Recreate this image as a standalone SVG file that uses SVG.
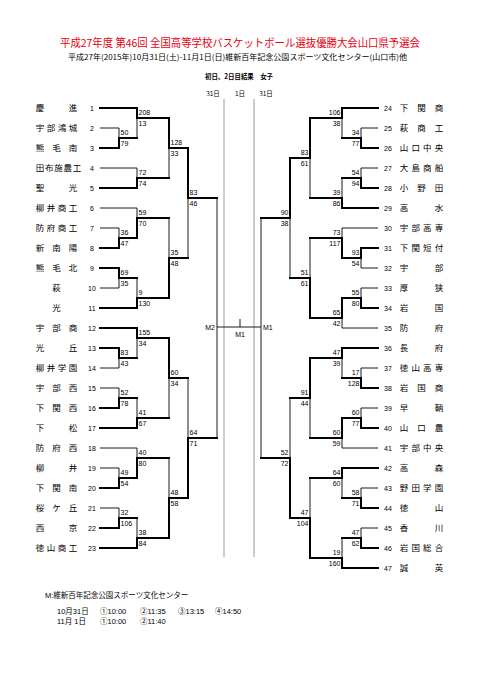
<svg xmlns="http://www.w3.org/2000/svg" width="481" height="680" viewBox="0 0 481 680">
<style>
.t{stroke:#000;stroke-width:0.9;fill:none}
.b{stroke:#000;stroke-width:2;fill:none;stroke-linecap:square}
.g{stroke:#999;stroke-width:1;fill:none}
text{font-family:"Liberation Sans","Noto Sans CJK JP",sans-serif;fill:#000}
.nm{font-family:"Noto Sans CJK JP",sans-serif;font-size:8.5px;text-anchor:middle}
.no{font-size:7px;text-anchor:middle}
.sl{font-size:7px}
.sr{font-size:7px;text-anchor:end}
.jp{font-family:"Noto Sans CJK JP",sans-serif}
</style>
<rect width="481" height="680" fill="#fff"/>
<g id="header">
<text class="jp" x="60" y="47" font-size="11" fill="#e60012" style="fill:#e60012" textLength="360" lengthAdjust="spacingAndGlyphs">平成27年度 第46回 全国高等学校バスケットボール選抜優勝大会山口県予選会</text>
<text class="jp" x="68" y="60" font-size="7.5" textLength="339" lengthAdjust="spacingAndGlyphs">平成27年(2015年)10月31日(土)-11月1日(日)維新百年記念公園スポーツ文化センター(山口市)他</text>
<text class="jp" x="205" y="79" font-size="7" font-weight="bold" textLength="68" lengthAdjust="spacingAndGlyphs">初日、2日目結果　女子</text>
<text class="jp" x="213" y="96" font-size="6.5" text-anchor="middle">31日</text>
<text class="jp" x="240" y="96" font-size="6.5" text-anchor="middle">1日</text>
<text class="jp" x="266" y="96" font-size="6.5" text-anchor="middle">31日</text>
</g>
<g id="connectors">
<path class="g" d="M224 99V557M254 99V557"/>
<path class="t" d="M100 128H119M100 168H137M100 208H137M100 228H119M100 288H119M100 368H119M100 388H119M100 448H137M100 468H119M100 508H119"/>
<path class="b" d="M100 108H137M100 148H119M100 188H137M100 248H119M100 268H119M100 308H137M100 328H137M100 348H119M100 408H119M100 428H137M100 488H119M100 528H119M100 548H137"/>
<path class="t" d="M378 128H361M378 168H361M378 228H342M378 268H361M378 288H361M378 328H342M378 368H361M378 408H361M378 448H342M378 488H361M378 528H361"/>
<path class="b" d="M378 108H342M378 148H361M378 188H361M378 208H342M378 248H361M378 308H361M378 348H342M378 388H361M378 428H361M378 468H342M378 508H361M378 548H361M378 568H342"/>
<path class="t" d="M119 128V138M137 118V138M137 168V178M169 148V178M119 228V238M137 208V218M119 278V288M137 278V298M169 218V258M188 198V258M119 358V368M137 338V358M119 388V398M137 398V418M169 378V418M119 468V478M137 448V458M119 508V518M137 518V538M169 458V498M188 378V438"/>
<path class="b" d="M119 138V148M119 138H137M137 108V118M137 118H169M137 178V188M137 178H169M169 118V148M169 148H188M119 238V248M119 238H137M137 218V238M137 218H169M119 268V278M119 278H137M137 298V308M137 298H169M169 258V298M169 258H188M188 148V198M188 198H217M119 348V358M119 358H137M137 328V338M137 338H169M119 398V408M119 398H137M137 418V428M137 418H169M169 338V378M169 378H188M119 478V488M119 478H137M137 458V478M137 458H169M119 518V528M119 518H137M137 538V548M137 538H169M169 498V538M169 498H188M188 438V498M188 438H217"/>
<path class="t" d="M361 128V138M342 118V138M361 168V178M342 178V198M310 158V198M361 258V268M342 228V238M361 288V298M342 318V328M310 238V278M290 218V278M361 368V378M342 358V378M361 408V418M342 438V448M310 398V438M361 488V498M342 478V498M361 528V538M342 538V558M310 478V518M290 398V458"/>
<path class="b" d="M361 138V148M361 138H342M342 108V118M342 118H310M361 178V188M361 178H342M342 198V208M342 198H310M310 118V158M310 158H290M361 248V258M361 258H342M342 238V258M342 238H310M361 298V308M361 298H342M342 298V318M342 318H310M310 278V318M310 278H290M290 158V218M290 218H261M361 378V388M361 378H342M342 348V358M342 358H310M361 418V428M361 418H342M342 418V438M342 438H310M310 358V398M310 398H290M361 498V508M361 498H342M342 468V478M342 478H310M361 538V548M361 538H342M342 558V568M342 558H310M310 518V558M310 518H290M290 458V518M290 458H261"/>
<path class="t" d="M217 198V438M261 218V458M217 327H261M240 319V327"/>
<g id="scores-left" class="sl">
<text x="120.5" y="135">50</text><text x="120.5" y="146">79</text>
<text x="138.5" y="115">208</text><text x="138.5" y="126">13</text>
<text x="138.5" y="175">72</text><text x="138.5" y="186">74</text>
<text x="170.5" y="145">128</text><text x="170.5" y="156">33</text>
<text x="120.5" y="235">36</text><text x="120.5" y="246">47</text>
<text x="138.5" y="215">59</text><text x="138.5" y="226">70</text>
<text x="120.5" y="275">69</text><text x="120.5" y="286">35</text>
<text x="138.5" y="295">9</text><text x="138.5" y="306">130</text>
<text x="170.5" y="255">35</text><text x="170.5" y="266">48</text>
<text x="189.5" y="195">83</text><text x="189.5" y="206">46</text>
<text x="120.5" y="355">83</text><text x="120.5" y="366">43</text>
<text x="138.5" y="335">155</text><text x="138.5" y="346">34</text>
<text x="120.5" y="395">52</text><text x="120.5" y="406">78</text>
<text x="138.5" y="415">41</text><text x="138.5" y="426">67</text>
<text x="170.5" y="375">60</text><text x="170.5" y="386">34</text>
<text x="120.5" y="475">49</text><text x="120.5" y="486">54</text>
<text x="138.5" y="455">40</text><text x="138.5" y="466">80</text>
<text x="120.5" y="515">32</text><text x="120.5" y="526">106</text>
<text x="138.5" y="535">38</text><text x="138.5" y="546">84</text>
<text x="170.5" y="495">48</text><text x="170.5" y="506">58</text>
<text x="189.5" y="435">64</text><text x="189.5" y="446">71</text>
</g>
<g id="scores-right" class="sr">
<text x="359.5" y="135">34</text><text x="359.5" y="146">77</text>
<text x="340.5" y="115">106</text><text x="340.5" y="126">38</text>
<text x="359.5" y="175">54</text><text x="359.5" y="186">94</text>
<text x="340.5" y="195">39</text><text x="340.5" y="206">86</text>
<text x="308.5" y="155">83</text><text x="308.5" y="166">61</text>
<text x="359.5" y="255">93</text><text x="359.5" y="266">54</text>
<text x="340.5" y="235">73</text><text x="340.5" y="246">117</text>
<text x="359.5" y="295">55</text><text x="359.5" y="306">80</text>
<text x="340.5" y="315">65</text><text x="340.5" y="326">42</text>
<text x="308.5" y="275">51</text><text x="308.5" y="286">61</text>
<text x="288.5" y="215">90</text><text x="288.5" y="226">38</text>
<text x="359.5" y="375">17</text><text x="359.5" y="386">128</text>
<text x="340.5" y="355">47</text><text x="340.5" y="366">39</text>
<text x="359.5" y="415">60</text><text x="359.5" y="426">77</text>
<text x="340.5" y="435">60</text><text x="340.5" y="446">59</text>
<text x="308.5" y="395">91</text><text x="308.5" y="406">44</text>
<text x="359.5" y="495">58</text><text x="359.5" y="506">71</text>
<text x="340.5" y="475">64</text><text x="340.5" y="486">60</text>
<text x="359.5" y="535">47</text><text x="359.5" y="546">62</text>
<text x="340.5" y="555">19</text><text x="340.5" y="566">160</text>
<text x="308.5" y="515">47</text><text x="308.5" y="526">104</text>
<text x="288.5" y="455">52</text><text x="288.5" y="466">72</text>
</g>
<g id="venues" font-size="7">
<text x="215" y="329.5" text-anchor="end">M2</text>
<text x="240" y="336.5" text-anchor="middle">M1</text>
<text x="263" y="329.5">M1</text>
</g>
</g>
<g id="team-1"><text class="nm" x="40 73" y="111">慶進</text><text class="no" x="92" y="110.5">1</text></g>
<g id="team-2"><text class="nm" x="40 51 62 73" y="131">宇部鴻城</text><text class="no" x="92" y="130.5">2</text></g>
<g id="team-3"><text class="nm" x="40 56.5 73" y="151">熊毛南</text><text class="no" x="92" y="150.5">3</text></g>
<g id="team-4"><text class="nm" x="40 49.25 58.5 67.75 77" y="171">田布施農工</text><text class="no" x="92" y="170.5">4</text></g>
<g id="team-5"><text class="nm" x="40 73" y="191">聖光</text><text class="no" x="92" y="190.5">5</text></g>
<g id="team-6"><text class="nm" x="40 51 62 73" y="211">柳井商工</text><text class="no" x="92" y="210.5">6</text></g>
<g id="team-7"><text class="nm" x="40 51 62 73" y="231">防府商工</text><text class="no" x="92" y="230.5">7</text></g>
<g id="team-8"><text class="nm" x="40 56.5 73" y="251">新南陽</text><text class="no" x="92" y="250.5">8</text></g>
<g id="team-9"><text class="nm" x="40 56.5 73" y="271">熊毛北</text><text class="no" x="92" y="270.5">9</text></g>
<g id="team-10"><text class="nm" x="56.5" y="291">萩</text><text class="no" x="92" y="290.5">10</text></g>
<g id="team-11"><text class="nm" x="56.5" y="311">光</text><text class="no" x="92" y="310.5">11</text></g>
<g id="team-12"><text class="nm" x="40 56.5 73" y="331">宇部商</text><text class="no" x="92" y="330.5">12</text></g>
<g id="team-13"><text class="nm" x="40 73" y="351">光丘</text><text class="no" x="92" y="350.5">13</text></g>
<g id="team-14"><text class="nm" x="40 51 62 73" y="371">柳井学園</text><text class="no" x="92" y="370.5">14</text></g>
<g id="team-15"><text class="nm" x="40 56.5 73" y="391">宇部西</text><text class="no" x="92" y="390.5">15</text></g>
<g id="team-16"><text class="nm" x="40 56.5 73" y="411">下関西</text><text class="no" x="92" y="410.5">16</text></g>
<g id="team-17"><text class="nm" x="40 73" y="431">下松</text><text class="no" x="92" y="430.5">17</text></g>
<g id="team-18"><text class="nm" x="40 56.5 73" y="451">防府西</text><text class="no" x="92" y="450.5">18</text></g>
<g id="team-19"><text class="nm" x="40 73" y="471">柳井</text><text class="no" x="92" y="470.5">19</text></g>
<g id="team-20"><text class="nm" x="40 56.5 73" y="491">下関南</text><text class="no" x="92" y="490.5">20</text></g>
<g id="team-21"><text class="nm" x="40 56.5 73" y="511">桜ケ丘</text><text class="no" x="92" y="510.5">21</text></g>
<g id="team-22"><text class="nm" x="40 73" y="531">西京</text><text class="no" x="92" y="530.5">22</text></g>
<g id="team-23"><text class="nm" x="40 51 62 73" y="551">徳山商工</text><text class="no" x="92" y="550.5">23</text></g>
<g id="team-24"><text class="no" x="388" y="110.5">24</text><text class="nm" x="404 421.5 439" y="111">下関商</text></g>
<g id="team-25"><text class="no" x="388" y="130.5">25</text><text class="nm" x="404 421.5 439" y="131">萩商工</text></g>
<g id="team-26"><text class="no" x="388" y="150.5">26</text><text class="nm" x="404 415.7 427.3 439" y="151">山口中央</text></g>
<g id="team-27"><text class="no" x="388" y="170.5">27</text><text class="nm" x="404 415.7 427.3 439" y="171">大島商船</text></g>
<g id="team-28"><text class="no" x="388" y="190.5">28</text><text class="nm" x="404 421.5 439" y="191">小野田</text></g>
<g id="team-29"><text class="no" x="388" y="210.5">29</text><text class="nm" x="404 439" y="211">高水</text></g>
<g id="team-30"><text class="no" x="388" y="230.5">30</text><text class="nm" x="404 415.7 427.3 439" y="231">宇部高専</text></g>
<g id="team-31"><text class="no" x="388" y="250.5">31</text><text class="nm" x="404 415.7 427.3 439" y="251">下関短付</text></g>
<g id="team-32"><text class="no" x="388" y="270.5">32</text><text class="nm" x="404 439" y="271">宇部</text></g>
<g id="team-33"><text class="no" x="388" y="290.5">33</text><text class="nm" x="404 439" y="291">厚狭</text></g>
<g id="team-34"><text class="no" x="388" y="310.5">34</text><text class="nm" x="404 439" y="311">岩国</text></g>
<g id="team-35"><text class="no" x="388" y="330.5">35</text><text class="nm" x="404 439" y="331">防府</text></g>
<g id="team-36"><text class="no" x="388" y="350.5">36</text><text class="nm" x="404 439" y="351">長府</text></g>
<g id="team-37"><text class="no" x="388" y="370.5">37</text><text class="nm" x="404 415.7 427.3 439" y="371">徳山高専</text></g>
<g id="team-38"><text class="no" x="388" y="390.5">38</text><text class="nm" x="404 421.5 439" y="391">岩国商</text></g>
<g id="team-39"><text class="no" x="388" y="410.5">39</text><text class="nm" x="404 439" y="411">早鞆</text></g>
<g id="team-40"><text class="no" x="388" y="430.5">40</text><text class="nm" x="404 421.5 439" y="431">山口農</text></g>
<g id="team-41"><text class="no" x="388" y="450.5">41</text><text class="nm" x="404 415.7 427.3 439" y="451">宇部中央</text></g>
<g id="team-42"><text class="no" x="388" y="470.5">42</text><text class="nm" x="404 439" y="471">高森</text></g>
<g id="team-43"><text class="no" x="388" y="490.5">43</text><text class="nm" x="404 415.7 427.3 439" y="491">野田学園</text></g>
<g id="team-44"><text class="no" x="388" y="510.5">44</text><text class="nm" x="404 439" y="511">徳山</text></g>
<g id="team-45"><text class="no" x="388" y="530.5">45</text><text class="nm" x="404 439" y="531">香川</text></g>
<g id="team-46"><text class="no" x="388" y="550.5">46</text><text class="nm" x="404 415.7 427.3 439" y="551">岩国総合</text></g>
<g id="team-47"><text class="no" x="388" y="570.5">47</text><text class="nm" x="404 439" y="571">誠英</text></g>
<g id="footer" class="jp" font-size="7.5">
<text x="45" y="598">M:維新百年記念公園スポーツ文化センター</text>
<text y="614"><tspan x="57">10月31日</tspan><tspan x="100">①10:00</tspan><tspan x="140">②11:35</tspan><tspan x="178">③13:15</tspan><tspan x="215">④14:50</tspan></text>
<text y="623.5"><tspan x="57">11月 1日</tspan><tspan x="100">①10:00</tspan><tspan x="140">②11:40</tspan></text>
</g>
</svg>
